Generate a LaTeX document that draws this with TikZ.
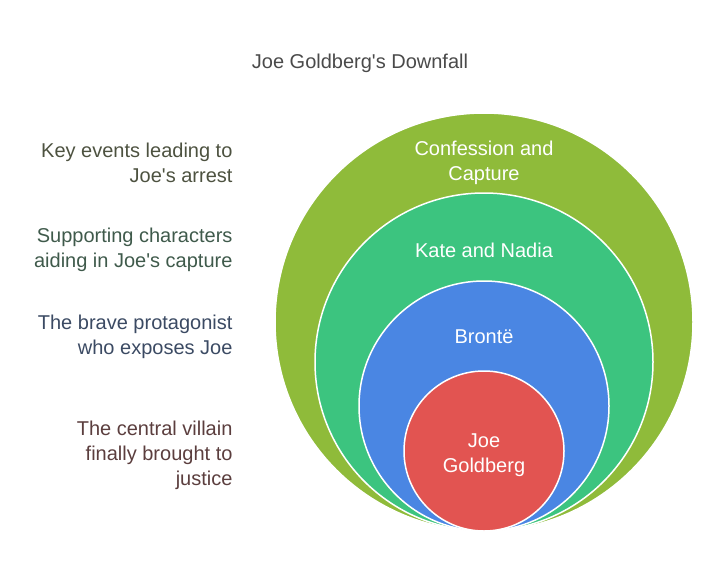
\documentclass[tikz,border=0pt]{standalone}
\usepackage{fontspec}
\setmainfont{Liberation Sans}
\usepackage{xcolor}
\usetikzlibrary{positioning}
\definecolor{capturegreen}{HTML}{8FBB3A}
\definecolor{helpersteal}{HTML}{3CC47F}
\definecolor{brontëblue}{HTML}{4A86E3}
\definecolor{joered}{HTML}{E25451}
\tikzset{
    ring/.style = {circle, draw=white, line width=1.5pt, inner sep=0pt},
    ringtext/.style = {text=white, align=center, font=\fontsize{20}{25}\selectfont},
    side/.style = {anchor=east, align=right, font=\fontsize{20}{25}\selectfont}
}
\begin{document}
\begin{tikzpicture}[x=1pt, y=-1pt]
    \useasboundingbox (0,0) rectangle (720,584);

    % Title
    \node[text=black!71, font=\fontsize{20}{25}\selectfont] (title) at (360,63) {Joe Goldberg\textquotesingle s Downfall};

    % Rings
    \node[ring, fill=capturegreen, minimum size=418pt] (capture) at (484,322) {};
    \node[ring, fill=helpersteal, minimum size=338pt] (helpers) at (484,362) {};
    \node[ring, fill=brontëblue, minimum size=250pt] (bronte) at (484,406) {};
    \node[ring, fill=joered, minimum size=160pt] (joe) at (484,451) {};

    % Ring labels
    \node[ringtext] (capturetxt) at (484,163) {Confession and\\Capture};
    \node[ringtext] (helperstxt) at (484,250) {Kate and Nadia};
    \node[ringtext] (brontetxt) at (484,337) {Brontë};
    \node[ringtext] (joetxt) at (484,455) {Joe\\Goldberg};

    % Side notes
    \node[side, text={rgb,255:red,77;green,82;blue,64}] (capturenote) at (236,163) {Key events leading to\\Joe\textquotesingle s arrest};
    \node[side, text={rgb,255:red,63;green,90;blue,75}] (helpersnote) at (236,250) {Supporting characters\\aiding in Joe\textquotesingle s capture};
    \node[side, text={rgb,255:red,59;green,74;blue,99}] (brontenote) at (236,337) {The brave protagonist\\who exposes Joe};
    \node[side, text={rgb,255:red,91;green,62;blue,62}] (joenote) at (236,455) {The central villain\\finally brought to\\justice};

\end{tikzpicture}
\end{document}
